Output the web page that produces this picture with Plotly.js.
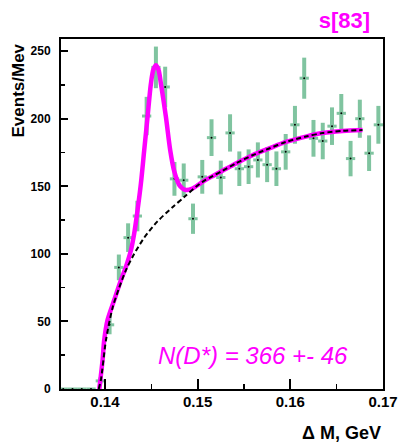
<!DOCTYPE html>
<html>
<head>
<meta charset="utf-8">
<script src="https://cdn.plot.ly/plotly-3.0.1.min.js"></script>
<style>html,body{margin:0;padding:0;background:#fff}#chart{width:400px;height:445px}</style>
</head>
<body>
<div id="chart"></div>
<script>
// Data points (bin centres, GeV) and Events/MeV with errors
const binX = [0.1355,0.1365,0.1375,0.1385,0.1395,0.1405,0.1415,0.1425,0.1435,0.1445,0.1455,0.1465,0.1475,0.1485,0.1495,0.1505,0.1515,0.1525,0.1535,0.1545,0.1555,0.1565,0.1575,0.1585,0.1595,0.1605,0.1615,0.1625,0.1635,0.1645,0.1655,0.1665,0.1675,0.1685,0.1695];
const binY = [0,0,0,0,6,47.5,90,112,128,202,238,223.5,155.5,154.5,126,157,186,156.5,189.5,163,164.5,169.5,166,163,175.5,195.5,230,185.5,183.5,194.5,204,170.5,200,174.5,195.5];
const binErr = [0,0,0,0,2.5,7,9.5,10.6,11.3,14.2,15.4,15,12.5,12.4,11.2,12.5,13.6,12.5,13.8,12.8,12.8,13,12.9,12.8,13.2,14,15.2,13.6,13.5,13.9,14.3,13.1,14.1,13.2,14];
const binHalfWidth = 0.0005;

// Total fit curve
const fitX = [0.13939,0.13974,0.13992,0.14028,0.14100,0.14173,0.14227,0.14281,0.14316,0.14352,0.14388,0.14424,0.14460,0.14496,0.14523,0.14550,0.14577,0.14604,0.14658,0.14704,0.14748,0.14802,0.14837,0.14874,0.14945,0.15053,0.15161,0.15269,0.15413,0.15592,0.15772,0.15953,0.16168,0.16347,0.16563,0.16779];
const fitY = [0,21,36,51,65.8,80.6,90.5,102.8,115.2,132.4,152,176.8,201.4,226,236.5,239.6,236.5,226,201.4,176.8,161,151,148.4,147.2,148.4,153.3,157.5,161.5,166.9,173,178,182.8,186.8,189.4,191,191.6];

// Background curve
const bgX = [0.13933,0.13957,0.14011,0.14082,0.14154,0.14227,0.14316,0.14424,0.14567,0.14729,0.14855,0.14982,0.15053,0.15161,0.15269,0.15413,0.15592,0.15772,0.15953,0.16168,0.16347,0.16563,0.16779];
const bgY = [0,7,36,60,75,88,100,112,124,134.5,142,149.6,153.3,157.5,161.5,166.9,173,178,182.8,186.8,189.4,191,191.6];

const green = 'rgb(128,196,160)';
const magenta = '#ff00ff';
const font = 'Liberation Sans, Arial, Helvetica, sans-serif';

const traces = [
  {
    x: binX, y: binY, type: 'scatter', mode: 'markers',
    marker: {color: 'black', size: 2},
    error_y: {type: 'data', array: binErr, visible: true, color: green, thickness: 4, width: 0},
    error_x: {type: 'constant', value: binHalfWidth, visible: true, color: green, thickness: 3, width: 0},
    hoverinfo: 'x+y', showlegend: false
  },
  {
    x: fitX, y: fitY, type: 'scatter', mode: 'lines',
    line: {color: magenta, width: 4.5, shape: 'spline', smoothing: 0.8},
    showlegend: false
  },
  {
    x: bgX, y: bgY, type: 'scatter', mode: 'lines',
    line: {color: 'black', width: 2, dash: '5px,3px', shape: 'spline', smoothing: 0.8},
    showlegend: false
  }
];

const layout = {
  width: 400, height: 445,
  margin: {l: 61, r: 17, t: 39, b: 56},
  paper_bgcolor: 'white', plot_bgcolor: 'white',
  showlegend: false,
  title: {
    text: '<b>s[83]</b>', font: {family: font, size: 22, color: magenta},
    xref: 'container', yref: 'container', x: 0.861, y: 0.955, xanchor: 'center', yanchor: 'middle'
  },
  xaxis: {
    range: [0.13526, 0.17], showgrid: false, zeroline: false,
    showline: true, linecolor: 'black', linewidth: 2, mirror: true,
    ticks: 'inside', ticklen: 10, tickwidth: 2, tickcolor: 'black',
    dtick: 0.01, tick0: 0.14, tickformat: '.2f',
    minor: {dtick: 0.005, ticks: 'inside', ticklen: 5, tickwidth: 1.5, tickcolor: 'black'},
    tickfont: {family: font, size: 15, color: 'black', weight: 'bold'},
    ticklabelstandoff: -2
  },
  yaxis: {
    range: [0, 259], showgrid: false, zeroline: false,
    showline: true, linecolor: 'black', linewidth: 2, mirror: true,
    ticks: 'inside', ticklen: 7, tickwidth: 2, tickcolor: 'black',
    dtick: 50, tick0: 0,
    minor: {dtick: 25, ticks: 'inside', ticklen: 4, tickwidth: 1.5, tickcolor: 'black'},
    tickfont: {family: font, size: 12, color: 'black', weight: 'bold'},
    ticklabelstandoff: 6
  },
  annotations: [
    {
      text: '<b>Events/Mev</b>', textangle: -90, showarrow: false,
      xref: 'paper', yref: 'paper', x: 0, y: 1, xanchor: 'center', yanchor: 'top',
      xshift: -43.5, yshift: -3,
      font: {family: font, size: 17, color: 'black'}
    },
    {
      text: '<b>Δ M, GeV</b>', showarrow: false,
      xref: 'paper', yref: 'paper', x: 1, y: 0, xanchor: 'right', yanchor: 'middle',
      xshift: 0, yshift: -44,
      font: {family: font, size: 18, color: 'black'}
    },
    {
      text: 'N(D*) = 366 +- 46', showarrow: false,
      xref: 'x', yref: 'y', x: 0.1560, y: 25, xanchor: 'center', yanchor: 'middle',
      font: {family: font, size: 24, color: magenta, style: 'italic'}
    }
  ]
};

Plotly.newPlot('chart', traces, layout, {displayModeBar: false, staticPlot: true});
</script>
</body>
</html>
